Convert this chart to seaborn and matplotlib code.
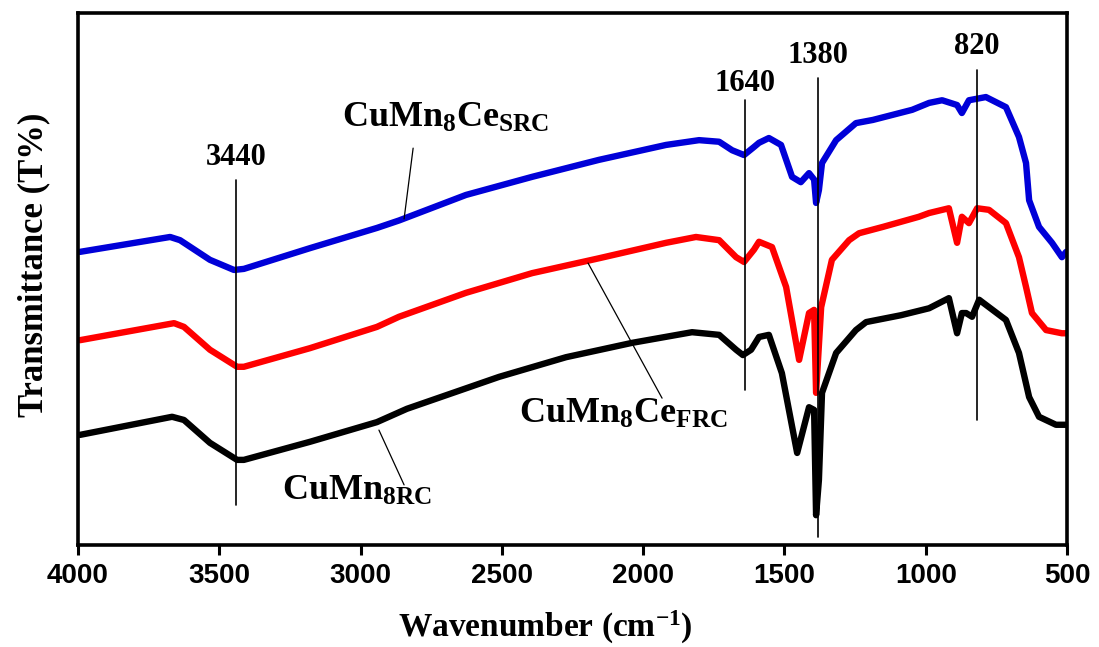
import matplotlib
matplotlib.use("Agg")
import matplotlib.pyplot as plt
import pandas as pd
import seaborn as sns

# FTIR spectra (wavenumber in cm-1, transmittance in arbitrary offset units)
src_ce_wn = [3993, 3674, 3639, 3533, 3448, 3413, 3179, 2942, 2864, 2627, 2393,
             2156, 1919, 1802, 1731, 1685, 1643, 1608, 1590, 1555, 1512, 1473,
             1442, 1413, 1395, 1388, 1378, 1367, 1317, 1247, 1187, 1048, 988,
             942, 889, 872, 847, 787, 716, 670, 645, 634, 599, 553, 518, 503]
src_ce_t = [55.1, 57.9, 57.3, 53.6, 51.7, 51.9, 55.8, 59.6, 61.0, 65.8, 69.2,
            72.4, 75.2, 76.1, 75.8, 74.2, 73.3, 74.8, 75.6, 76.5, 75.2, 69.2,
            68.2, 69.9, 68.7, 64.3, 66.7, 71.8, 76.1, 79.3, 79.9, 81.8, 83.1,
            83.6, 82.7, 81.2, 83.6, 84.2, 82.3, 76.7, 71.8, 64.8, 59.8, 56.8, 54.1, 55.1]

frc_ce_wn = [3993, 3660, 3625, 3533, 3437, 3413, 3179, 2942, 2864, 2627, 2393,
             2156, 1919, 1813, 1731, 1671, 1643, 1608, 1590, 1544, 1494, 1448,
             1413, 1395, 1388, 1370, 1332, 1271, 1236, 1151, 1024, 988, 918,
             889, 872, 847, 818, 776, 716, 670, 645, 624, 574, 518, 503]
frc_ce_t = [38.5, 41.7, 41.0, 36.7, 33.5, 33.5, 37.0, 41.0, 42.9, 47.4, 51.1,
            53.9, 56.8, 57.9, 57.3, 54.1, 53.2, 55.5, 57.0, 56.0, 48.5, 34.8,
            43.6, 44.2, 28.6, 44.7, 53.6, 57.3, 58.6, 59.8, 61.7, 62.4, 63.3,
            56.8, 61.7, 60.5, 63.3, 63.0, 60.5, 54.1, 48.5, 43.6, 40.4, 39.8, 39.8]

src_wn = [3993, 3667, 3625, 3533, 3437, 3413, 3179, 2942, 2836, 2510, 2273,
          2039, 1827, 1731, 1671, 1647, 1618, 1590, 1555, 1509, 1455, 1413,
          1395, 1388, 1378, 1367, 1317, 1247, 1211, 1087, 988, 918, 889, 872,
          857, 836, 811, 776, 716, 670, 634, 599, 539, 518, 503]
src_t = [20.7, 24.1, 23.5, 19.2, 16.0, 16.0, 19.4, 23.1, 25.6, 31.6, 35.3,
         38.0, 40.0, 39.5, 36.7, 35.7, 36.7, 39.1, 39.5, 32.3, 17.3, 25.9,
         25.4, 5.6, 12.2, 28.6, 36.1, 40.4, 41.9, 43.2, 44.5, 46.4, 39.8, 43.6,
         43.6, 42.9, 46.1, 44.7, 42.3, 36.1, 27.8, 24.1, 22.6, 22.6, 22.6]

# Band assignments marked with vertical guide lines
band_labels = ["3440", "1640", "1380", "820"]
band_pos = [3440, 1640, 1380, 820]
band_line_lo = [7.5, 29.1, 1.5, 23.5]
band_line_hi = [68.6, 83.6, 87.8, 89.3]
band_text_y = [71.4, 85.3, 90.6, 92.3]

# Sample names with leader lines
sample_names = [r"CuMn$_{8}$Ce$_{SRC}$", r"CuMn$_{8}$Ce$_{FRC}$", r"CuMn$_{8RC}$"]
name_x = [3066, 2439, 3278]
name_y = [78.6, 22.9, 8.5]
leader_x0 = [2814, 2195, 2935]
leader_y0 = [74.6, 53.0, 21.6]
leader_x1 = [2846, 1933, 2846]
leader_y1 = [61.3, 27.6, 11.3]

x_ticks = [4000, 3500, 3000, 2500, 2000, 1500, 1000, 500]

sns.set_style("white")
plt.rcParams["font.family"] = ["Liberation Serif", "DejaVu Serif"]
plt.rcParams["text.color"] = "black"
plt.rcParams["axes.labelcolor"] = "black"
plt.rcParams["xtick.color"] = "black"
plt.rcParams["mathtext.fontset"] = "custom"
plt.rcParams["mathtext.rm"] = "Liberation Serif:bold"
plt.rcParams["mathtext.it"] = "Liberation Serif:bold"
plt.rcParams["mathtext.bf"] = "Liberation Serif:bold"
plt.rcParams["mathtext.default"] = "rm"

fig = plt.figure(figsize=(10.99, 6.47), dpi=100)
ax = fig.add_axes([78 / 1099, 102 / 647, 989 / 1099, 532 / 647])

spectra = [
    (src_ce_wn, src_ce_t, "#0000D8"),
    (frc_ce_wn, frc_ce_t, "#FF0000"),
    (src_wn, src_t, "#000000"),
]
for wn, t, col in spectra:
    df = pd.DataFrame({"wavenumber": wn, "T": t})
    sns.lineplot(data=df, x="wavenumber", y="T", color=col, lw=4.6,
                 estimator=None, errorbar=None, ax=ax, zorder=2)

for lab, pos, lo, hi, ty in zip(band_labels, band_pos, band_line_lo,
                                band_line_hi, band_text_y):
    ax.plot([pos, pos], [lo, hi], color="black", lw=1.2, zorder=4)
    ax.text(pos, ty, lab, ha="center", va="baseline", fontsize=22,
            fontweight="bold", family="Liberation Serif", zorder=5)

for name, nx, ny, x0, y0, x1, y1 in zip(sample_names, name_x, name_y,
                                        leader_x0, leader_y0, leader_x1, leader_y1):
    ax.plot([x0, x1], [y0, y1], color="black", lw=0.9, zorder=4)
    ax.text(nx, ny, name, ha="left", va="baseline", fontsize=26,
            fontweight="bold", family="Liberation Serif", zorder=5)

ax.set_xlim(4000, 500)
ax.set_ylim(0, 100)
ax.set_xticks(x_ticks)
ax.set_yticks([])
ax.tick_params(axis="x", direction="out", length=7, width=2.2, pad=6,
               labelsize=20, bottom=True, colors="black")
for lbl in ax.get_xticklabels():
    lbl.set_fontfamily("Liberation Sans")
    lbl.set_fontweight("bold")

for sp in ax.spines.values():
    sp.set_visible(True)
    sp.set_linewidth(2.6)
    sp.set_color("black")

ax.set_xlabel(r"Wavenumber (cm$^{-1}$)", fontsize=24, fontweight="bold",
              va="baseline")
ax.xaxis.set_label_coords(0.472, -(637 - 545) / 532)
ax.set_ylabel("Transmittance (T%)", fontsize=25, fontweight="bold")
ax.yaxis.set_label_coords(-0.028, 0.526)

fig.savefig("out.png", dpi=100)
